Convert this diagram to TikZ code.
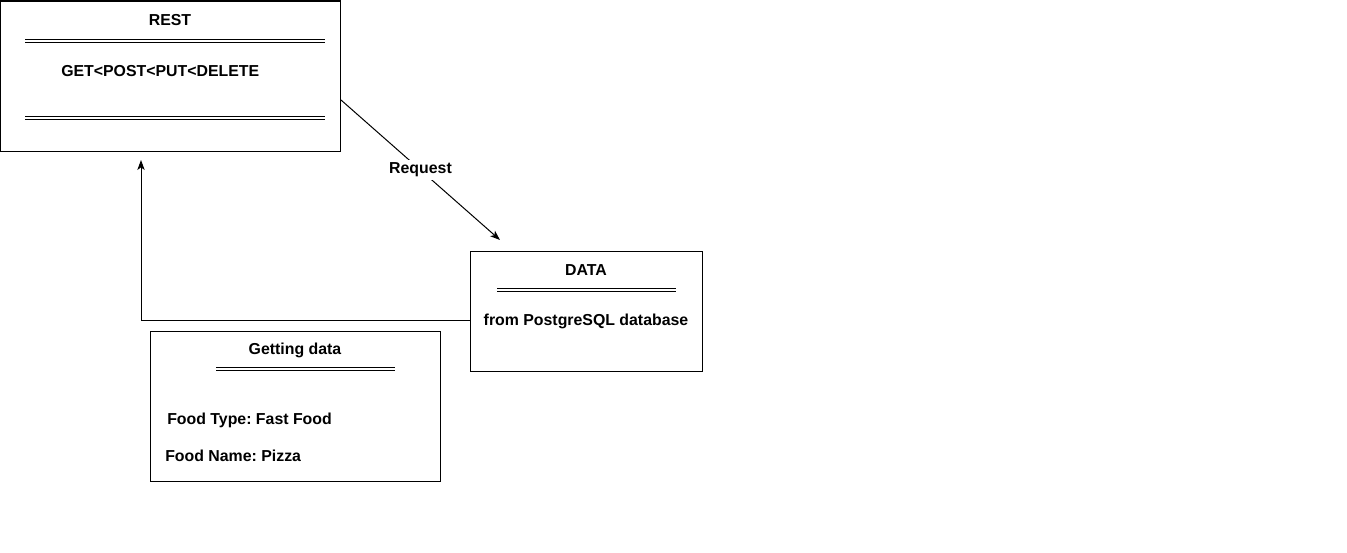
\documentclass[tikz,border=0pt]{standalone}
\usepackage{fontspec}
\setmainfont{Liberation Sans}
\usetikzlibrary{arrows.meta}
\begin{document}
\frenchspacing
\begin{tikzpicture}[x=0.75pt,y=-0.75pt,
  box/.style={draw,line width=0.75pt,inner sep=0pt,anchor=north west},
  lbl/.style={font=\fontsize{11.9}{13}\selectfont\bfseries,inner sep=0pt},
  dbl/.style={line width=0.75pt},
  conn/.style={line width=0.75pt,-{Stealth[length=7.5pt,width=5.5pt,inset=2pt]}}]
\useasboundingbox (0,0) rectangle (1347,553);
% REST box
\node[box,minimum width=340*0.75pt,minimum height=150*0.75pt] (rest) at (0,0.5) {};
\node[lbl] (restt) at (170,20) {REST};
\draw[dbl] (25,39.5) -- (325,39.5) (25,42) -- (325,42);
\node[lbl,anchor=west] (methods) at (61,71) {GET<POST<PUT<DELETE};
\draw[dbl] (25,116.5) -- (325,116.5) (25,119) -- (325,119);
% DATA box
\node[box,minimum width=232*0.75pt,minimum height=120*0.75pt] (data) at (470,250.5) {};
\node[lbl] (datat) at (586,270) {DATA};
\draw[dbl] (497,288.5) -- (676,288.5) (497,291) -- (676,291);
\node[lbl] (pg) at (586,321) {from PostgreSQL database};
% Getting data box
\node[box,minimum width=290*0.75pt,minimum height=150*0.75pt] (get) at (150,330.5) {};
\node[lbl] (gett) at (295,350) {Getting data};
\draw[dbl] (216,367.5) -- (395,367.5) (216,370) -- (395,370);
\node[lbl,anchor=west] (ft) at (167,420) {Food Type: Fast Food};
\node[lbl,anchor=west] (fn) at (165,456) {Food Name: Pizza};
% connectors
\coordinate (rq) at (500,240);
\coordinate (back) at (141,160);
\draw[conn] (rest.east |- 0,100) -- node[lbl,fill=white,inner sep=2pt] (reqlbl) {Request} (rq);
\draw[conn] (data.west |- 0,320) -| (back);
\end{tikzpicture}
\end{document}
